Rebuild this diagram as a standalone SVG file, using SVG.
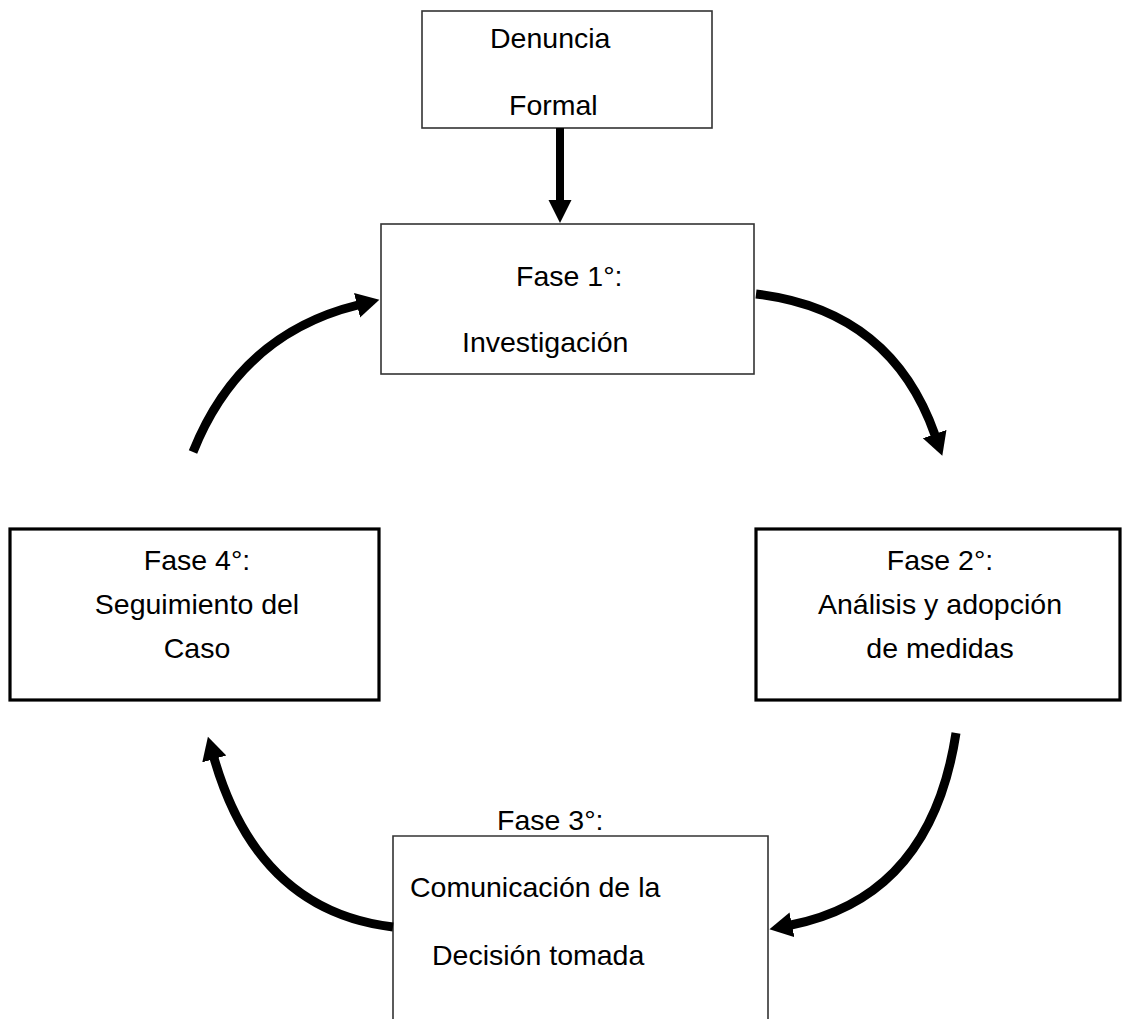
<svg xmlns="http://www.w3.org/2000/svg" width="1122" height="1019" viewBox="0 0 1122 1019">
<style>
  text { font-family: "Liberation Sans", Arial, sans-serif; font-size: 28.5px; fill: #000; }
  .thin { fill: #fff; stroke: #333; stroke-width: 1.6; }
  .thick { fill: #fff; stroke: #000; stroke-width: 3.2; }
  .conn { fill: none; stroke: #000; stroke-width: 9; }
</style>
<defs>
  <marker id="head" markerUnits="userSpaceOnUse" viewBox="0 -13 24 26" markerWidth="24" markerHeight="26" refX="1" refY="0" orient="auto">
    <path d="M0,-12.5 L23,0 L0,12.5 Z" fill="#000"/>
  </marker>
</defs>
<rect width="1122" height="1019" fill="#fff"/>

<g id="denuncia">
  <rect class="thin" x="422" y="11" width="290" height="117"/>
  <text x="490" y="48">Denuncia</text>
  <text x="509" y="115">Formal</text>
</g>

<g id="fase1">
  <rect class="thin" x="381" y="224" width="373" height="150"/>
  <text x="516" y="286">Fase 1°:</text>
  <text x="462" y="352">Investigación</text>
</g>

<g id="fase2">
  <rect class="thick" x="756" y="529" width="364" height="171"/>
  <text x="940" y="570" text-anchor="middle">Fase 2°:</text>
  <text x="940" y="614" text-anchor="middle">Análisis y adopción</text>
  <text x="940" y="658" text-anchor="middle">de medidas</text>
</g>

<g id="fase4">
  <rect class="thick" x="10" y="529" width="369" height="171"/>
  <text x="197" y="570" text-anchor="middle">Fase 4°:</text>
  <text x="197" y="614" text-anchor="middle">Seguimiento del</text>
  <text x="197" y="658" text-anchor="middle">Caso</text>
</g>

<g id="fase3">
  <path class="thin" d="M393,1019 L393,836 L768,836 L768,1019"/>
  <text x="497" y="830">Fase 3°:</text>
  <text x="410" y="897">Comunicación de la</text>
  <text x="432" y="965">Decisión tomada</text>
</g>

<g id="connectors">
  <line x1="560" y1="128" x2="560" y2="201" stroke="#000" stroke-width="8"/>
  <path d="M548.5,200 L571.5,200 L560,223 Z" fill="#000"/>
  <path class="conn" d="M756,294 Q891,310 935,435" marker-end="url(#head)"/>
  <path class="conn" d="M956,733 Q931,897 791,925" marker-end="url(#head)"/>
  <path class="conn" d="M393,927 Q258,911 214,758" marker-end="url(#head)"/>
  <path class="conn" d="M193,452 Q240,334 358,305" marker-end="url(#head)"/>
</g>
</svg>
